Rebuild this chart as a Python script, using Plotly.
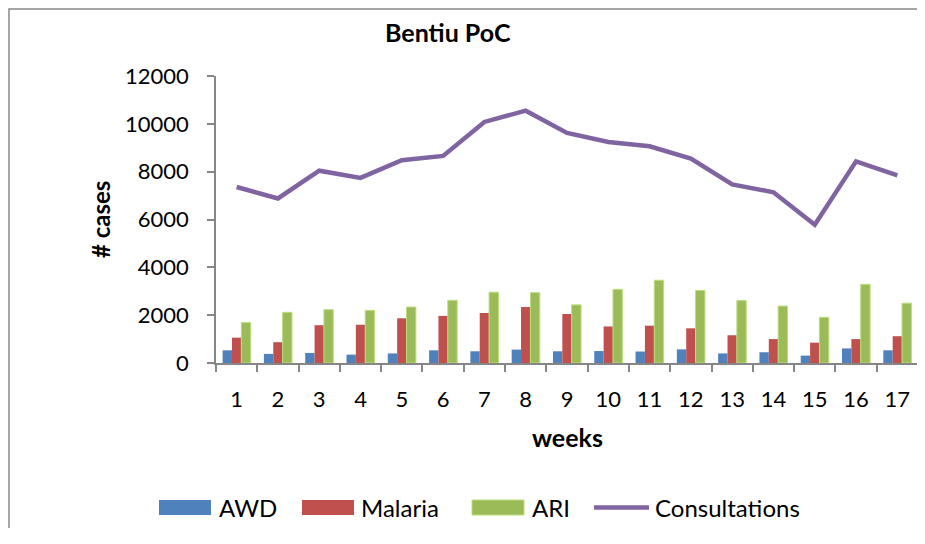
import plotly.graph_objects as go

weeks = [str(i) for i in range(1, 18)]
awd = [530, 380, 420, 350, 400, 530, 490, 560, 490, 500, 480, 570, 400, 450, 310, 610, 530]
malaria = [1060, 870, 1580, 1600, 1870, 1970, 2090, 2340, 2050, 1530, 1560, 1450, 1160, 1000, 850, 1000, 1120]
ari = [1690, 2120, 2230, 2200, 2340, 2620, 2960, 2940, 2430, 3080, 3460, 3030, 2610, 2380, 1910, 3290, 2500]
consultations = [7360, 6880, 8040, 7740, 8480, 8660, 10080, 10550, 9620, 9240, 9060, 8550, 7470, 7140, 5780, 8430, 7840]

series_names = ["AWD", "Malaria", "ARI", "Consultations"]
colors = ["#4F81BD", "#C0504D", "#9BBB59", "#8064A2"]

FONT = "Lato"

fig = go.Figure()
fig.add_trace(go.Bar(x=weeks, y=awd, name=series_names[0], showlegend=False,
                     marker=dict(color=colors[0], line=dict(width=0))))
fig.add_trace(go.Bar(x=weeks, y=malaria, name=series_names[1], showlegend=False,
                     marker=dict(color=colors[1], line=dict(width=0))))
fig.add_trace(go.Bar(x=weeks, y=ari, name=series_names[2], showlegend=False,
                     marker=dict(color=colors[2], line=dict(width=1, color="#B9DE7A"))))
fig.add_trace(go.Scatter(x=weeks, y=consultations, name=series_names[3], mode="lines", showlegend=False,
                         line=dict(color=colors[3], width=4.5)))

OFF = 8  # page body margin
W, H = 925 - OFF, 520
L, R, T, B = 208, 7, 68, 165
pw = W - L - R
ph = H - T - B


def px(x):
    return (x - OFF - L) / pw


def py(y):
    return (H - B - (y - OFF)) / ph


border_path = "M {x0},{y0} L {x0},{y1} L {x2},{y1}".format(
    x0=px(9), y0=py(540), y1=py(9), x2=px(930))
shapes = [
    dict(type="path", xref="paper", yref="paper", path=border_path,
         line=dict(color="#888888", width=1.5), fillcolor="rgba(0,0,0,0)"),
]
annotations = [
    dict(text="<b>Bentiu PoC</b>", xref="paper", yref="paper", x=px(448), y=py(32),
         showarrow=False, font=dict(size=25, family=FONT), xanchor="center", yanchor="middle"),
    dict(text="<b># cases</b>", xref="paper", yref="paper", x=px(100), y=py(220),
         showarrow=False, textangle=-90, font=dict(size=24, family=FONT),
         xanchor="center", yanchor="middle"),
    dict(text="<b>weeks</b>", xref="paper", yref="paper", x=px(567), y=py(437),
         showarrow=False, font=dict(size=25, family=FONT), xanchor="center", yanchor="middle"),
]

# legend (drawn manually to match swatch sizes)
leg_y = 507.5
swatch_x = [159, 302, 472, 594]
text_x = [217, 359, 530, 653]
for i, name in enumerate(series_names):
    if i < 3:
        shapes.append(dict(type="rect", xref="paper", yref="paper",
                           x0=px(swatch_x[i]), x1=px(swatch_x[i] + 52),
                           y0=py(leg_y + 7.5), y1=py(leg_y - 7.5),
                           fillcolor=colors[i],
                           line=dict(width=1 if i == 2 else 0, color="#B9DE7A")))
    else:
        shapes.append(dict(type="line", xref="paper", yref="paper",
                           x0=px(swatch_x[i]), x1=px(swatch_x[i] + 55),
                           y0=py(leg_y), y1=py(leg_y),
                           line=dict(color=colors[i], width=4.5)))
    annotations.append(dict(text=name, xref="paper", yref="paper", x=px(text_x[i]), y=py(leg_y),
                            showarrow=False, xanchor="left", yanchor="middle",
                            font=dict(size=24, family=FONT, color="black")))

fig.update_layout(
    width=W, height=H,
    margin=dict(l=L, r=R, t=T, b=B, pad=0),
    paper_bgcolor="white", plot_bgcolor="white",
    barmode="group", bargap=0.32, bargroupgap=0,
    font=dict(family=FONT, size=22, color="black"),
    showlegend=False,
    xaxis=dict(type="category", showgrid=False, showline=True, linecolor="#868686", linewidth=1.5,
               ticks="outside", ticklen=7, tickcolor="#868686", tickwidth=1.5, tickson="boundaries",
               ticklabelstandoff=16, tickfont=dict(size=22, family=FONT)),
    yaxis=dict(range=[0, 12000], dtick=2000, tickformat="d", showgrid=False, showline=True,
               linecolor="#868686", linewidth=1.5, ticks="outside", ticklen=7, tickcolor="#868686",
               tickwidth=1.5, ticklabelstandoff=14, tickfont=dict(size=22, family=FONT), zeroline=False),
    annotations=annotations,
    shapes=shapes,
)

fig.write_html("out.html")
